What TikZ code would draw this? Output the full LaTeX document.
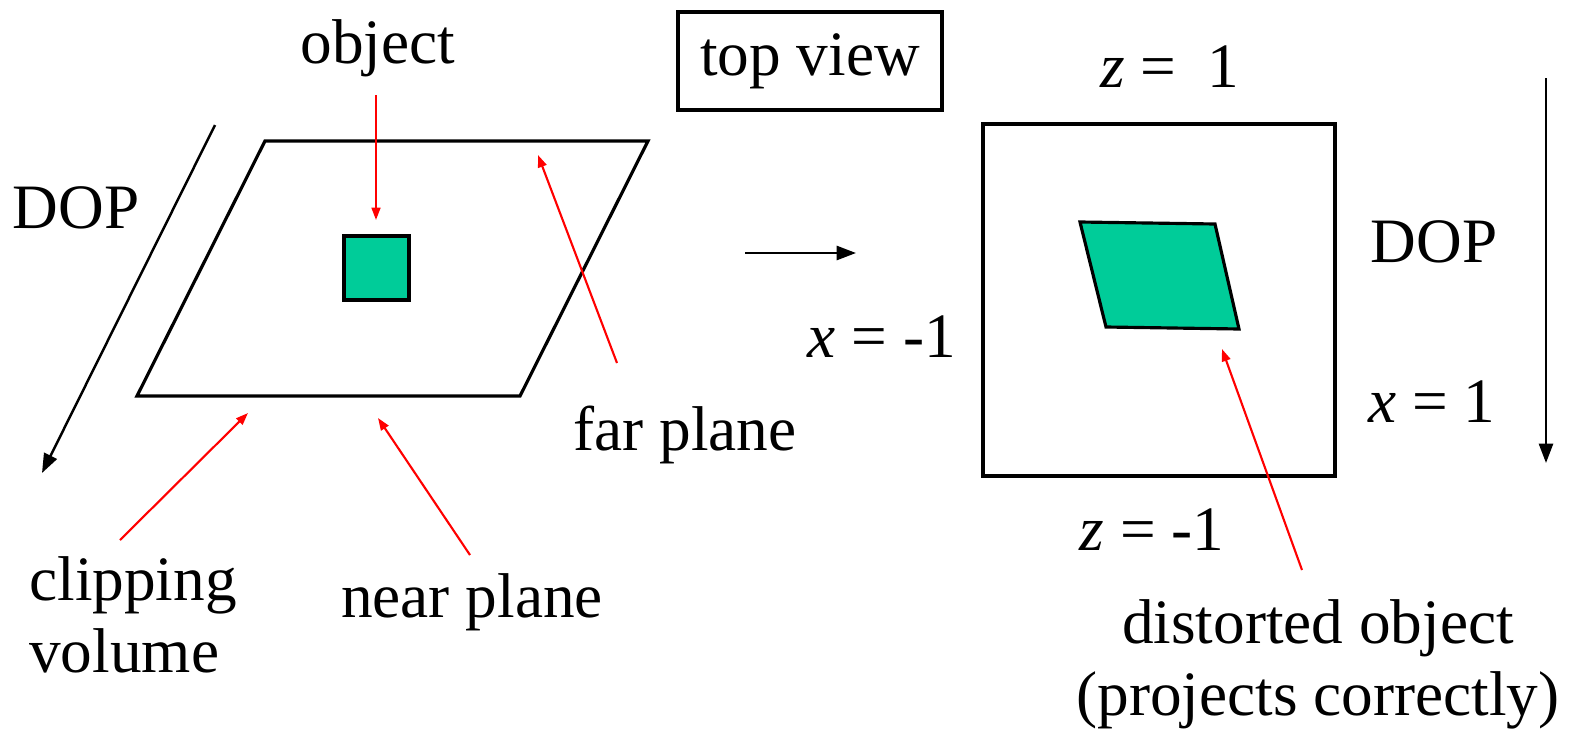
\documentclass[tikz,border=0pt]{standalone}
\usepackage{fontspec}
\setmainfont{Liberation Serif}
\usetikzlibrary{arrows.meta}
\definecolor{objgreen}{RGB}{0,204,153}
\begin{document}
\begin{tikzpicture}[x=0.02cm,y=-0.02cm,
  lbl/.style={inner sep=0pt,font=\fontsize{36}{41}\selectfont},
  blk/.style={draw=black,line width=1.8pt},
  redarr/.style={draw=red,line width=1.2pt,-{Triangle[length=7pt,width=5pt]}},
  blkarr/.style={draw=black,line width=1.4pt,-{Triangle[length=11pt,width=8pt]}},
  obj/.style={fill=objgreen,draw=black,line width=1.8pt}]
\useasboundingbox (0,0) rectangle (1570,734);
% left plane
\draw[blk] (265,141) -- (648,141) -- (520,396) -- (137,396) -- cycle;
\draw[obj] (344,236) rectangle (409,300);
% text
\node[lbl] (object) at (378,48) {object};
\node[lbl] (dopl) at (76,208) {DOP};
\node[lbl] (far) at (685,435) {far plane};
\node[lbl,align=left] (clip) at (133,615) {clipping\\volume};
\node[lbl] (near) at (472,602) {near plane};
\node[lbl,draw=black,line width=1.8pt,minimum width=5.28cm,minimum height=1.96cm] (top) at (810,61) {top view};
\node[lbl] (z1) at (1170,67) {\textit{z} =\ \ 1};
\node[lbl] (dopr) at (1434,242) {DOP};
\node[lbl] (xm1) at (882,337) {\textit{x} = -1};
\node[lbl] (x1) at (1432,402) {\textit{x} = 1};
\node[lbl] (zm1) at (1152,530) {\textit{z} = -1};
\node[lbl,align=center] (dist) at (1318,664) {distorted object\\(projects correctly)};
% right view
\draw[blk] (983,124) rectangle (1335,476);
\draw[obj] (1080,222) -- (1215,224) -- (1239,329) -- (1106,327) -- cycle;
% coordinates
\coordinate (oa) at (376,95);
\coordinate (ob) at (376,220);
\coordinate (da) at (215,125);
\coordinate (db) at (42,473);
\coordinate (fa) at (617,363);
\coordinate (fb) at (538,155);
\coordinate (ca) at (120,540);
\coordinate (cb) at (248,413);
\coordinate (na) at (470,555);
\coordinate (nb) at (378,418);
\coordinate (ma) at (745,253);
\coordinate (mb) at (856,253);
\coordinate (va) at (1546,78);
\coordinate (vb) at (1546,463);
\coordinate (ta) at (1302,570);
\coordinate (tb) at (1222,349);
% arrows
\draw[redarr] (oa) -- (ob);
\draw[redarr] (fa) -- (fb);
\draw[redarr] (ca) -- (cb);
\draw[redarr] (na) -- (nb);
\draw[redarr] (ta) -- (tb);
\draw[blkarr] (da) -- (db);
\draw[blkarr] (ma) -- (mb);
\draw[blkarr] (va) -- (vb);
\end{tikzpicture}
\end{document}
